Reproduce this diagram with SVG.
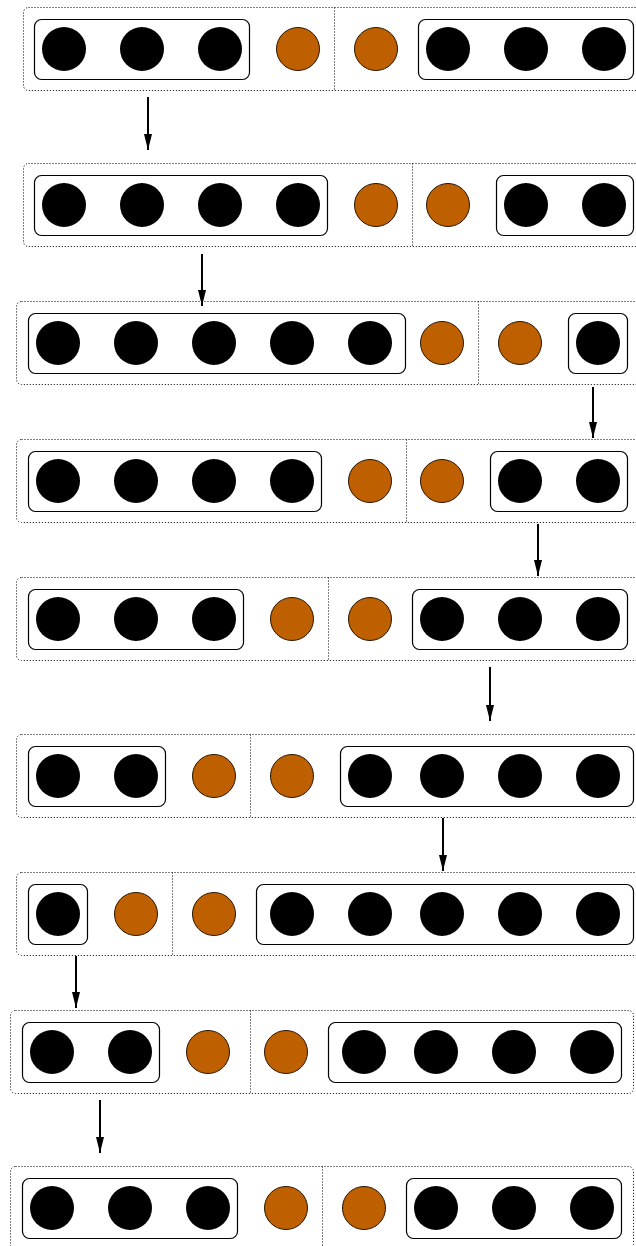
<svg xmlns="http://www.w3.org/2000/svg" width="636" height="1246" viewBox="0 0 636 1246">
<style>
.outer{fill:none;stroke:#000;stroke-width:1;stroke-dasharray:1 2}
.div{stroke:#000;stroke-width:1;stroke-dasharray:1 2}
.inner{fill:#fff;stroke:#000;stroke-width:1.2}
.b{fill:#000}
.o{fill:#bf6000;stroke:#2a1500;stroke-width:1}
.arr{stroke:#000;stroke-width:2;fill:none}
</style>
<defs>
<marker id="ah" markerUnits="userSpaceOnUse" markerWidth="16" markerHeight="8" refX="16" refY="4" orient="auto" viewBox="0 0 16 8">
<path d="M0,0 L16,4 L0,8 Z" fill="#000"/>
</marker>
</defs>
<rect width="636" height="1246" fill="#fff"/>
<g id="row1">
<rect class="outer" x="23.5" y="7.5" width="622" height="83" rx="5"/>
<line class="div" x1="334.5" y1="7.5" x2="334.5" y2="90.5"/>
<rect class="inner" x="34.5" y="19.5" width="215" height="60" rx="7"/>
<circle class="b" cx="64" cy="49" r="22"/><circle class="b" cx="142" cy="49" r="22"/><circle class="b" cx="220" cy="49" r="22"/>
<circle class="o" cx="298" cy="49" r="21.5"/><circle class="o" cx="376" cy="49" r="21.5"/>
<rect class="inner" x="418.5" y="19.5" width="215" height="60" rx="7"/>
<circle class="b" cx="448" cy="49" r="22"/><circle class="b" cx="526" cy="49" r="22"/><circle class="b" cx="604" cy="49" r="22"/>
</g>
<g id="row2">
<rect class="outer" x="23.5" y="163.5" width="622" height="83" rx="5"/>
<line class="div" x1="412.5" y1="163.5" x2="412.5" y2="246.5"/>
<rect class="inner" x="34.5" y="175.5" width="293" height="60" rx="7"/>
<circle class="b" cx="64" cy="205" r="22"/><circle class="b" cx="142" cy="205" r="22"/><circle class="b" cx="220" cy="205" r="22"/><circle class="b" cx="298" cy="205" r="22"/>
<circle class="o" cx="376" cy="205" r="21.5"/><circle class="o" cx="448" cy="205" r="21.5"/>
<rect class="inner" x="496.5" y="175.5" width="137" height="60" rx="7"/>
<circle class="b" cx="526" cy="205" r="22"/><circle class="b" cx="604" cy="205" r="22"/>
</g>
<g id="row3">
<rect class="outer" x="16.5" y="301.5" width="623" height="83" rx="5"/>
<line class="div" x1="478.5" y1="301.5" x2="478.5" y2="384.5"/>
<rect class="inner" x="28.5" y="313.5" width="377" height="60" rx="7"/>
<circle class="b" cx="58" cy="343" r="22"/><circle class="b" cx="136" cy="343" r="22"/><circle class="b" cx="214" cy="343" r="22"/><circle class="b" cx="292" cy="343" r="22"/><circle class="b" cx="370" cy="343" r="22"/>
<circle class="o" cx="442" cy="343" r="21.5"/><circle class="o" cx="520" cy="343" r="21.5"/>
<rect class="inner" x="568.5" y="313.5" width="59" height="60" rx="7"/>
<circle class="b" cx="598" cy="343" r="22"/>
</g>
<g id="row4">
<rect class="outer" x="16.5" y="439.5" width="623" height="83" rx="5"/>
<line class="div" x1="406.5" y1="439.5" x2="406.5" y2="522.5"/>
<rect class="inner" x="28.5" y="451.5" width="293" height="60" rx="7"/>
<circle class="b" cx="58" cy="481" r="22"/><circle class="b" cx="136" cy="481" r="22"/><circle class="b" cx="214" cy="481" r="22"/><circle class="b" cx="292" cy="481" r="22"/>
<circle class="o" cx="370" cy="481" r="21.5"/><circle class="o" cx="442" cy="481" r="21.5"/>
<rect class="inner" x="490.5" y="451.5" width="137" height="60" rx="7"/>
<circle class="b" cx="520" cy="481" r="22"/><circle class="b" cx="598" cy="481" r="22"/>
</g>
<g id="row5">
<rect class="outer" x="16.5" y="577.5" width="623" height="83" rx="5"/>
<line class="div" x1="328.5" y1="577.5" x2="328.5" y2="660.5"/>
<rect class="inner" x="28.5" y="589.5" width="215" height="60" rx="7"/>
<circle class="b" cx="58" cy="619" r="22"/><circle class="b" cx="136" cy="619" r="22"/><circle class="b" cx="214" cy="619" r="22"/>
<circle class="o" cx="292" cy="619" r="21.5"/><circle class="o" cx="370" cy="619" r="21.5"/>
<rect class="inner" x="412.5" y="589.5" width="215" height="60" rx="7"/>
<circle class="b" cx="442" cy="619" r="22"/><circle class="b" cx="520" cy="619" r="22"/><circle class="b" cx="598" cy="619" r="22"/>
</g>
<g id="row6">
<rect class="outer" x="16.5" y="734.5" width="629" height="83" rx="5"/>
<line class="div" x1="250.5" y1="734.5" x2="250.5" y2="817.5"/>
<rect class="inner" x="28.5" y="746.5" width="137" height="60" rx="7"/>
<circle class="b" cx="58" cy="776" r="22"/><circle class="b" cx="136" cy="776" r="22"/>
<circle class="o" cx="214" cy="776" r="21.5"/><circle class="o" cx="292" cy="776" r="21.5"/>
<rect class="inner" x="340.5" y="746.5" width="293" height="60" rx="7"/>
<circle class="b" cx="370" cy="776" r="22"/><circle class="b" cx="442" cy="776" r="22"/><circle class="b" cx="520" cy="776" r="22"/><circle class="b" cx="598" cy="776" r="22"/>
</g>
<g id="row7">
<rect class="outer" x="16.5" y="872.5" width="629" height="83" rx="5"/>
<line class="div" x1="172.5" y1="872.5" x2="172.5" y2="955.5"/>
<rect class="inner" x="28.5" y="884.5" width="59" height="60" rx="7"/>
<circle class="b" cx="58" cy="914" r="22"/>
<circle class="o" cx="136" cy="914" r="21.5"/><circle class="o" cx="214" cy="914" r="21.5"/>
<rect class="inner" x="256.5" y="884.5" width="377" height="60" rx="7"/>
<circle class="b" cx="292" cy="914" r="22"/><circle class="b" cx="370" cy="914" r="22"/><circle class="b" cx="442" cy="914" r="22"/><circle class="b" cx="520" cy="914" r="22"/><circle class="b" cx="598" cy="914" r="22"/>
</g>
<g id="row8">
<rect class="outer" x="10.5" y="1010.5" width="623" height="83" rx="5"/>
<line class="div" x1="250.5" y1="1010.5" x2="250.5" y2="1093.5"/>
<rect class="inner" x="22.5" y="1022.5" width="137" height="60" rx="7"/>
<circle class="b" cx="52" cy="1052" r="22"/><circle class="b" cx="130" cy="1052" r="22"/>
<circle class="o" cx="208" cy="1052" r="21.5"/><circle class="o" cx="286" cy="1052" r="21.5"/>
<rect class="inner" x="328.5" y="1022.5" width="293" height="60" rx="7"/>
<circle class="b" cx="364" cy="1052" r="22"/><circle class="b" cx="436" cy="1052" r="22"/><circle class="b" cx="514" cy="1052" r="22"/><circle class="b" cx="592" cy="1052" r="22"/>
</g>
<g id="row9">
<rect class="outer" x="10.5" y="1166.5" width="623" height="83" rx="5"/>
<line class="div" x1="322.5" y1="1166.5" x2="322.5" y2="1249.5"/>
<rect class="inner" x="22.5" y="1178.5" width="215" height="60" rx="7"/>
<circle class="b" cx="52" cy="1208" r="22"/><circle class="b" cx="130" cy="1208" r="22"/><circle class="b" cx="208" cy="1208" r="22"/>
<circle class="o" cx="286" cy="1208" r="21.5"/><circle class="o" cx="364" cy="1208" r="21.5"/>
<rect class="inner" x="406.5" y="1178.5" width="215" height="60" rx="7"/>
<circle class="b" cx="436" cy="1208" r="22"/><circle class="b" cx="514" cy="1208" r="22"/><circle class="b" cx="592" cy="1208" r="22"/>
</g>
<g id="connectors">
<line class="arr" x1="148" y1="97" x2="148" y2="150" marker-end="url(#ah)"/>
<line class="arr" x1="202" y1="254" x2="202" y2="306" marker-end="url(#ah)"/>
<line class="arr" x1="593" y1="387" x2="593" y2="438" marker-end="url(#ah)"/>
<line class="arr" x1="538" y1="524" x2="538" y2="576" marker-end="url(#ah)"/>
<line class="arr" x1="490" y1="667" x2="490" y2="721" marker-end="url(#ah)"/>
<line class="arr" x1="443" y1="818" x2="443" y2="871" marker-end="url(#ah)"/>
<line class="arr" x1="76" y1="956" x2="76" y2="1008" marker-end="url(#ah)"/>
<line class="arr" x1="100" y1="1100" x2="100" y2="1153" marker-end="url(#ah)"/>
</g>
</svg>
